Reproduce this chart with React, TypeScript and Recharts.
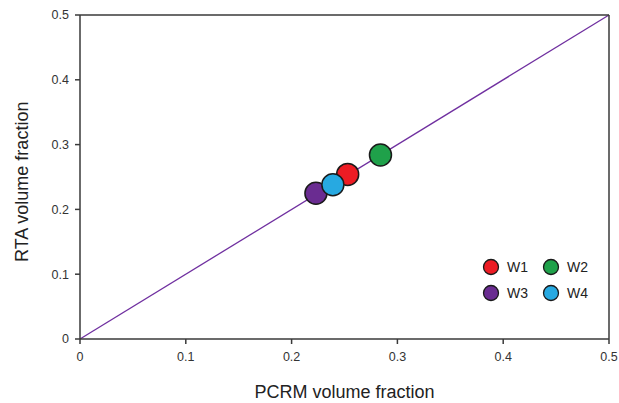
import React from "react";
import {
  ScatterChart,
  Scatter,
  XAxis,
  YAxis,
  ReferenceLine,
} from "recharts";

const names = ["W1", "W2", "W3", "W4"];
const pcrm = [0.253, 0.284, 0.223, 0.239];
const rta = [0.254, 0.284, 0.225, 0.238];
const colors = ["#ed1c24", "#1fa14a", "#6a2c91", "#27a9e1"];
const ticks = [0, 0.1, 0.2, 0.3, 0.4, 0.5];

const font = "'Liberation Sans', Arial, sans-serif";
const axisColor = "#3a3a3a";

const dot = (color: string, r: number) => (props: any) => (
  <circle cx={props.cx} cy={props.cy} r={r} fill={color} stroke="#1a1a1a" strokeWidth={1.5} />
);

const fmt = (v: number) => (v === 0 ? "0" : String(v));

// 2x2 legend drawn inside the plot, lower right
const LegendBox = () => (
  <div
    style={{
      position: "absolute",
      left: 482,
      top: 258,
      display: "grid",
      gridTemplateColumns: "60px 60px",
      rowGap: 8,
      fontFamily: font,
      fontSize: 14,
      color: "#222",
    }}
  >
    {names.map((n, i) => (
      <div key={n} style={{ display: "flex", alignItems: "center", height: 18 }}>
        <svg width={18} height={18} style={{ marginRight: 7 }}>
          <circle cx={9} cy={9} r={7.5} fill={colors[i]} stroke="#1a1a1a" strokeWidth={1.3} />
        </svg>
        {n}
      </div>
    ))}
  </div>
);

export default function App() {
  return (
    <div style={{ position: "absolute", left: 0, top: 0, width: 619, height: 403, overflow: "hidden" }}>
      <ScatterChart
        width={619}
        height={403}
        margin={{ top: 15, right: 10, bottom: 10, left: 20 }}
        style={{ fontFamily: font }}
      >
        <XAxis
          type="number"
          dataKey="x"
          domain={[0, 0.5]}
          ticks={ticks}
          tickFormatter={fmt}
          height={54}
          stroke={axisColor}
          strokeWidth={1.5}
          tickSize={5}
          tickMargin={8}
          tick={{ fontSize: 12.5, fill: "#333" }}
          label={{ value: "PCRM volume fraction", position: "insideBottom", offset: 0, dy: 5, fontSize: 18, fill: "#222" }}
        />
        <YAxis
          type="number"
          dataKey="y"
          domain={[0, 0.5]}
          ticks={ticks}
          tickFormatter={fmt}
          width={60}
          stroke={axisColor}
          strokeWidth={1.5}
          tickSize={5}
          tickMargin={6}
          tick={{ fontSize: 12.5, fill: "#333" }}
          label={{ value: "RTA volume fraction", angle: -90, position: "insideLeft", offset: 2, dy: 85, fontSize: 18, fill: "#222" }}
        />
        <ReferenceLine
          segment={[{ x: 0, y: 0 }, { x: 0.5, y: 0.5 }]}
          stroke="#7030a0"
          strokeWidth={1.3}
        />
        <ReferenceLine y={0.5} stroke={axisColor} strokeWidth={1.5} />
        <ReferenceLine x={0.5} stroke={axisColor} strokeWidth={1.5} />
        {names.map((n, i) => (
          <Scatter
            key={n}
            name={n}
            data={[{ x: pcrm[i], y: rta[i] }]}
            fill={colors[i]}
            shape={dot(colors[i], 11)}
            isAnimationActive={false}
          />
        ))}
      </ScatterChart>
      <LegendBox />
    </div>
  );
}
